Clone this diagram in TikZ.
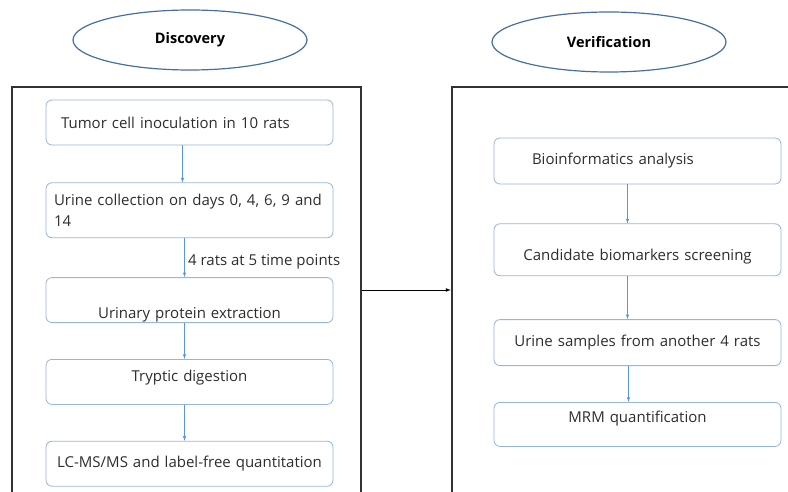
\documentclass[tikz,border=0pt]{standalone}
\usepackage{fontspec}
\setmainfont{Open Sans}
\usetikzlibrary{shapes.geometric, positioning, arrows}

\definecolor{boxblue}{RGB}{150,182,215}
\definecolor{ovalblue}{RGB}{70,110,160}
\definecolor{arrowblue}{RGB}{90,150,215}
\definecolor{framegray}{RGB}{50,50,50}
\definecolor{textgray}{RGB}{45,45,45}

\tikzset{
  stepbox/.style={draw=boxblue, rounded corners=6pt, line width=0.8pt,
    minimum width=287pt, minimum height=45pt, text width=271pt,
    inner xsep=8pt, align=center, text=textgray,
    font=\fontsize{15}{21}\selectfont},
  phase/.style={ellipse, draw=ovalblue, line width=1.2pt,
    minimum width=234pt, minimum height=60pt, text=black,
    font=\bfseries\fontsize{14.5}{17}\selectfont},
  frame/.style={draw=framegray, line width=2.4pt, inner sep=0pt,
    minimum height=406pt},
  flow/.style={->, >=latex, draw=arrowblue, line width=0.6pt}
}

\begin{document}
\begin{tikzpicture}
	[x=1pt, y=-1pt, node distance=37pt]
   \useasboundingbox (0,0) rectangle (788,492);
   \clip (0,0) rectangle (788,492);

   % the two phases
   \node[phase] (disc) at (190,40) {Discovery};
   \node[phase] (veri) at (609,42) {Verification};
   \node[frame, minimum width=349pt] (discbox) at (186.5,290) {};
   \node[frame, minimum width=348pt] (veribox) at (626,290) {};

   % discovery steps
   \node[stepbox, align=left] (inoc) at (189.5,122.5)
     {\hspace*{7pt}Tumor cell inoculation in 10 rats};
   \node[stepbox, align=left, minimum height=55pt] (collect) [below=of inoc]
     {Urine collection on days 0, 4, 6, 9 and\\14};
   \node[stepbox, text height=36pt, text depth=0pt] (extract) [below=39pt of collect]
     {Urinary protein extraction};
   \node[stepbox, text height=10pt, text depth=11pt] (digest) [below=36pt of extract]
     {Tryptic digestion};
   \node[stepbox] (lcms) [below=36pt of digest]
     {LC-MS/MS and label-free quantitation};

   % verification steps
   \node[stepbox, align=left, minimum height=46pt] (bioinf) at (637.5,161)
     {\hspace*{30pt}Bioinformatics analysis};
   \node[stepbox, minimum height=52pt, text height=25pt, text depth=4pt] (screen)
     [below=39pt of bioinf] {Candidate biomarkers screening};
   \node[stepbox, minimum height=46pt] (samples) [below=43pt of screen]
     {Urine samples from another 4 rats};
   \node[stepbox, minimum height=44pt, text height=9pt, text depth=12pt] (mrm)
     [below=36pt of samples] {MRM quantification};

   \draw[flow] ([xshift=-7pt]inoc.south) -- ([xshift=-7pt]collect.north);
   \draw[flow] ([xshift=-5pt]collect.south) -- ([xshift=-5pt]extract.north)
     node[right, pos=0.6, text=textgray, font=\fontsize{15}{18}\selectfont]
     {4 rats at 5 time points};
   \draw[flow] ([xshift=-5pt]extract.south) -- ([xshift=-5pt]digest.north);
   \draw[flow] ([xshift=-5pt]digest.south) -- ([xshift=-5pt]lcms.north);
   \draw[flow] ([xshift=-10pt]bioinf.south) -- ([xshift=-10pt]screen.north);
   \draw[flow] ([xshift=-10pt]screen.south) -- ([xshift=-10pt]samples.north);
   \draw[flow] ([xshift=-9pt]samples.south) -- ([xshift=-9pt]mrm.north);

   \draw[->, >=latex, line width=0.7pt] (discbox.east) -- (veribox.west);
\end{tikzpicture}
\end{document}
